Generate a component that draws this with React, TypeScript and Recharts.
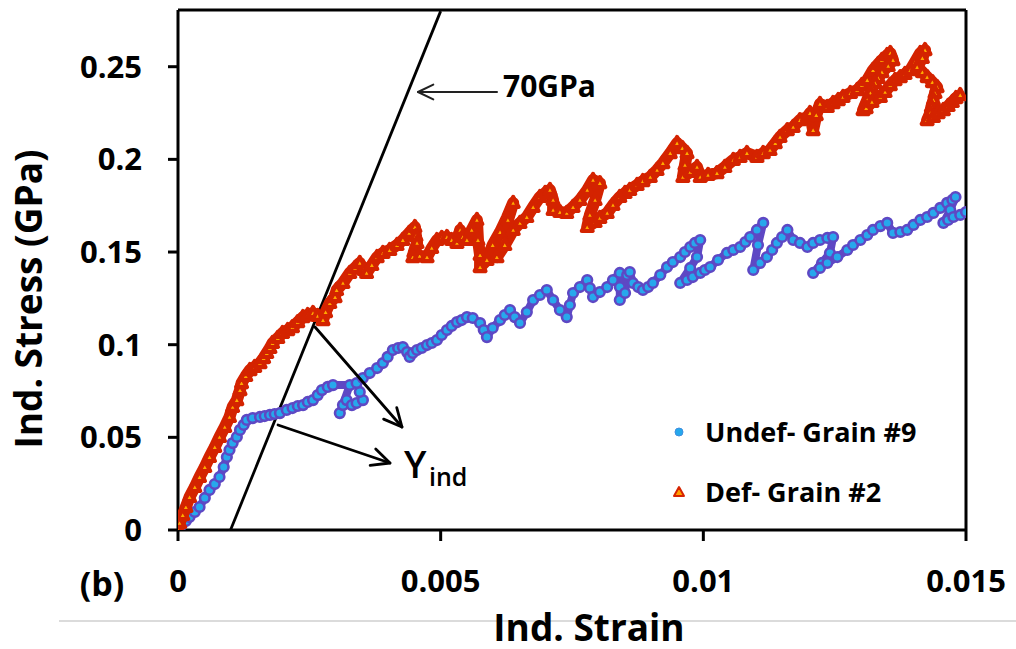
import React from "react";
import { ScatterChart, Scatter, XAxis, YAxis, ReferenceLine } from "recharts";

// Undef- Grain #9
const undefStrain = [
  0, 0.00007, 0.00015, 0.00022, 0.00032, 0.00041, 0.00051, 0.0006, 0.0007, 0.00079,
  0.00087, 0.00093, 0.00098, 0.00104, 0.00112, 0.00118, 0.00125, 0.00131, 0.00142, 0.00156,
  0.00165, 0.00175, 0.00184, 0.00194, 0.00207, 0.00218, 0.00228, 0.00238, 0.00247, 0.00257,
  0.00266, 0.00274, 0.00285, 0.00295, 0.00327, 0.00308, 0.00314, 0.00321, 0.00331, 0.0034,
  0.00352, 0.00346, 0.0034, 0.00352, 0.00365, 0.00379, 0.0039, 0.00399, 0.00409, 0.00419,
  0.00428, 0.00436, 0.00441, 0.00447, 0.00455, 0.00464, 0.00474, 0.00483, 0.00493, 0.00502,
  0.00512, 0.00521, 0.00531, 0.0054, 0.0055, 0.00561, 0.00575, 0.00582, 0.00588, 0.00599,
  0.00613, 0.00622, 0.00632, 0.00641, 0.00651, 0.00664, 0.00676, 0.00689, 0.00702, 0.00714,
  0.00727, 0.0074, 0.00746, 0.00752, 0.00765, 0.00779, 0.00784, 0.0079, 0.00803, 0.00817,
  0.00828, 0.00841, 0.00841, 0.00841, 0.00851, 0.00855, 0.0086, 0.00866, 0.00876, 0.00885,
  0.00895, 0.00904, 0.00918, 0.00931, 0.00942, 0.00956, 0.00965, 0.00975, 0.00984, 0.00994,
  0.00988, 0.00975, 0.00956, 0.00969, 0.0098, 0.00994, 0.01003, 0.01013, 0.01028, 0.01045,
  0.01057, 0.0107, 0.0108, 0.01089, 0.01102, 0.01114, 0.01104, 0.01095, 0.01108, 0.01121,
  0.01131, 0.0114, 0.0115, 0.0116, 0.01171, 0.01184, 0.01198, 0.01209, 0.01222, 0.01236,
  0.01247, 0.01241, 0.01226, 0.01209, 0.01222, 0.01236, 0.01255, 0.01274, 0.01285, 0.01299,
  0.01312, 0.01323, 0.01337, 0.0135, 0.01361, 0.01375, 0.01388, 0.014, 0.01413, 0.01426,
  0.01438, 0.01451, 0.01464, 0.01474, 0.0148, 0.0147, 0.01457, 0.01466, 0.01476, 0.01489,
  0.015,
];
const undefStress = [
  0, 0.0027, 0.0049, 0.007, 0.0097, 0.0124, 0.0173, 0.0216, 0.0248, 0.0286,
  0.034, 0.0394, 0.0432, 0.0469, 0.0502, 0.054, 0.0567, 0.0594, 0.0604, 0.061,
  0.0615, 0.0621, 0.0626, 0.0631, 0.0648, 0.0658, 0.0669, 0.0674, 0.0691, 0.0701,
  0.0728, 0.0755, 0.0772, 0.0782, 0.0782, 0.0631, 0.0674, 0.0701, 0.0674, 0.0685,
  0.0701, 0.0745, 0.0793, 0.082, 0.0847, 0.0874, 0.0901, 0.0934, 0.0971, 0.0982,
  0.0987, 0.096, 0.0934, 0.0955, 0.0971, 0.0982, 0.0998, 0.1009, 0.1025, 0.1052,
  0.1079, 0.1101, 0.1122, 0.1133, 0.1149, 0.1144, 0.1117, 0.1079, 0.1041, 0.109,
  0.1133, 0.116, 0.1187, 0.1149, 0.1117, 0.1176, 0.1241, 0.1268, 0.1295, 0.1241,
  0.1187, 0.1149, 0.1214, 0.1279, 0.1311, 0.1349, 0.1306, 0.1257, 0.1284, 0.1311,
  0.1349, 0.1387, 0.1311, 0.1241, 0.1279, 0.1376, 0.1392, 0.1333, 0.1311, 0.1295,
  0.1311, 0.1333, 0.1376, 0.1419, 0.1446, 0.1473, 0.15, 0.1527, 0.1549, 0.1565,
  0.1473, 0.1414, 0.1333, 0.1349, 0.1365, 0.1387, 0.1403, 0.1419, 0.1457, 0.1495,
  0.1511, 0.1527, 0.1554, 0.1581, 0.1619, 0.1657, 0.1538, 0.1403, 0.1441, 0.1473,
  0.1511, 0.1549, 0.1581, 0.1619, 0.1565, 0.1549, 0.1527, 0.1549, 0.1565, 0.1576,
  0.1581, 0.1495, 0.1441, 0.1387, 0.1414, 0.1441, 0.1473, 0.1511, 0.1538, 0.1565,
  0.1592, 0.1619, 0.164, 0.1657, 0.1603, 0.1608, 0.1619, 0.1646, 0.1673, 0.1689,
  0.1711, 0.1738, 0.1765, 0.1781, 0.1797, 0.1727, 0.1657, 0.1673, 0.1689, 0.17,
  0.1716,
];

// Def- Grain #2
const defStrain = [
  0, 0.00003, 0.00009, 0.00015, 0.00022, 0.00032, 0.00041, 0.00051, 0.0006, 0.0007,
  0.00079, 0.00089, 0.00098, 0.00104, 0.00112, 0.00118, 0.00121, 0.00129, 0.00137, 0.00146,
  0.00156, 0.00163, 0.00169, 0.00175, 0.0018, 0.0019, 0.00199, 0.00209, 0.00218, 0.00228,
  0.00238, 0.00247, 0.00257, 0.00266, 0.00276, 0.00281, 0.00289, 0.00299, 0.00302, 0.00314,
  0.00327, 0.00337, 0.00346, 0.00354, 0.00359, 0.00369, 0.00379, 0.0039, 0.00403, 0.00417,
  0.00428, 0.0044, 0.00451, 0.00453, 0.00455, 0.00449, 0.00447, 0.0046, 0.00474, 0.00483,
  0.00493, 0.00502, 0.00512, 0.00521, 0.00531, 0.00537, 0.00542, 0.0055, 0.00559, 0.00569,
  0.00571, 0.00575, 0.00575, 0.00588, 0.00599, 0.00613, 0.00626, 0.00638, 0.00628, 0.00619,
  0.00607, 0.00622, 0.00638, 0.00651, 0.00664, 0.00676, 0.00689, 0.00699, 0.00708, 0.00714,
  0.00714, 0.00727, 0.0074, 0.00752, 0.00765, 0.00779, 0.0079, 0.00803, 0.00794, 0.00784,
  0.00779, 0.00794, 0.00803, 0.00817, 0.00828, 0.00841, 0.00851, 0.0086, 0.00874, 0.00885,
  0.00899, 0.00912, 0.00923, 0.00937, 0.0095, 0.0096, 0.00969, 0.00965, 0.00961, 0.00975,
  0.00988, 0.00994, 0.01009, 0.01026, 0.01041, 0.01057, 0.0107, 0.01083, 0.01102, 0.01114,
  0.01127, 0.01137, 0.01146, 0.0116, 0.01171, 0.01184, 0.01198, 0.01203, 0.01209, 0.01215,
  0.01222, 0.01236, 0.01247, 0.01257, 0.01266, 0.0128, 0.01293, 0.01302, 0.01312, 0.01323,
  0.01333, 0.0134, 0.0135, 0.01356, 0.01361, 0.01352, 0.0134, 0.01333, 0.01327, 0.01321,
  0.01318, 0.01312, 0.01304, 0.0131, 0.01321, 0.01337, 0.01346, 0.01356, 0.01365, 0.01375,
  0.01384, 0.01394, 0.01403, 0.01413, 0.01422, 0.01417, 0.01407, 0.01417, 0.01426, 0.01436,
  0.01445, 0.01441, 0.01438, 0.01434, 0.01432, 0.01426, 0.01438, 0.01447, 0.01457, 0.01466,
  0.01474, 0.01481, 0.01489,
];
const defStress = [
  0, 0.0038, 0.0081, 0.0124, 0.0178, 0.0232, 0.0286, 0.034, 0.0394, 0.0448,
  0.0502, 0.0556, 0.061, 0.0664, 0.0701, 0.0755, 0.0793, 0.0831, 0.0863, 0.088,
  0.0901, 0.0928, 0.0955, 0.0982, 0.1009, 0.1036, 0.1063, 0.1079, 0.1095, 0.1122,
  0.1149, 0.116, 0.1171, 0.1155, 0.1133, 0.1176, 0.1225, 0.1257, 0.1295, 0.1333,
  0.1387, 0.1414, 0.1441, 0.1403, 0.1387, 0.143, 0.1473, 0.1495, 0.1511, 0.1538,
  0.1565, 0.1603, 0.1635, 0.1586, 0.1549, 0.15, 0.1473, 0.1479, 0.1473, 0.1522,
  0.1565, 0.1576, 0.1581, 0.1565, 0.1549, 0.1619, 0.1581, 0.1565, 0.1619, 0.1673,
  0.1565, 0.1484, 0.1419, 0.1457, 0.1538, 0.1608, 0.1684, 0.1765, 0.1673, 0.1565,
  0.1473, 0.1538, 0.1619, 0.1657, 0.1689, 0.1743, 0.1797, 0.1819, 0.1835, 0.1781,
  0.1727, 0.1716, 0.1711, 0.1743, 0.1781, 0.1835, 0.1889, 0.1872, 0.1781, 0.17,
  0.1635, 0.1662, 0.1684, 0.1711, 0.1754, 0.1797, 0.1819, 0.1835, 0.1862, 0.1883,
  0.1905, 0.1943, 0.198, 0.2034, 0.2088, 0.2061, 0.2034, 0.197, 0.1905, 0.1932,
  0.1959, 0.1905, 0.1916, 0.1926, 0.1959, 0.1997, 0.2013, 0.2034, 0.2013, 0.2034,
  0.2051, 0.2088, 0.2121, 0.2158, 0.2175, 0.2212, 0.2229, 0.225, 0.2158, 0.2239,
  0.2299, 0.2283, 0.2304, 0.232, 0.2337, 0.2358, 0.2374, 0.2401, 0.2428, 0.2482,
  0.2515, 0.2536, 0.2563, 0.2574, 0.2536, 0.2504, 0.2471, 0.2439, 0.2412, 0.2385,
  0.2358, 0.232, 0.2266, 0.2277, 0.231, 0.2337, 0.2364, 0.2401, 0.2428, 0.2444,
  0.2461, 0.2482, 0.2525, 0.2574, 0.259, 0.2547, 0.2498, 0.2471, 0.2444, 0.2417,
  0.239, 0.2358, 0.232, 0.2283, 0.225, 0.2212, 0.2229, 0.225, 0.2266, 0.2288,
  0.231, 0.2331, 0.2347,
];

const xTicks = [0, 0.005, 0.01, 0.015];
const yTicks = [0, 0.05, 0.1, 0.15, 0.2, 0.25];
const X_MAX = 0.015;
const Y_MAX = 0.2806;
const modulusLine = [
  { x: 0.001, y: 0 },
  { x: 0.005, y: 0.28 },
];
const seriesNames = ["Undef- Grain #9", "Def- Grain #2"];

const undefData = undefStrain.map((x, i) => ({ x, y: undefStress[i] }));
const defData = defStrain.map((x, i) => ({ x, y: defStress[i] }));

const FONT = "'Open Sans', sans-serif";

const Dot = (p: any) => {
  if (p.cx == null || p.cy == null) return null;
  return <circle cx={p.cx} cy={p.cy} r={4.8} fill="#27a8ec" stroke="#5e48c4" strokeWidth={2.6} />;
};
const Tri = (p: any) => {
  if (p.cx == null || p.cy == null) return null;
  const { cx, cy } = p;
  return (
    <path
      d={`M${cx},${cy - 6} L${cx + 5.4},${cy + 4} L${cx - 5.4},${cy + 4} Z`}
      fill="#ffaa00"
      stroke="#d42300"
      strokeWidth={4.2}
      strokeLinejoin="round"
    />
  );
};

const XTick = (p: any) => {
  const { x, y, payload } = p;
  return (
    <text x={x} y={y} dy={22} textAnchor="middle" fontFamily={FONT} fontWeight={700} fontSize={31} fill="#000">
      {String(payload.value)}
    </text>
  );
};
const YTick = (p: any) => {
  const { x, y, payload } = p;
  return (
    <text x={x} y={y} dy={11} textAnchor="end" fontFamily={FONT} fontWeight={700} fontSize={31} fill="#000">
      {String(payload.value)}
    </text>
  );
};

const Arrow = ({ x1, y1, x2, y2, w = 2.5, head = 16, color = "#000" }: any) => {
  const a = Math.atan2(y2 - y1, x2 - x1);
  const s = 0.45;
  const hx1 = x2 - head * Math.cos(a - s);
  const hy1 = y2 - head * Math.sin(a - s);
  const hx2 = x2 - head * Math.cos(a + s);
  const hy2 = y2 - head * Math.sin(a + s);
  return (
    <g stroke={color} strokeWidth={w} fill="none" strokeLinecap="round" strokeLinejoin="round">
      <line x1={x1} y1={y1} x2={x2} y2={y2} />
      <polyline points={`${hx1},${hy1} ${x2},${y2} ${hx2},${hy2}`} />
    </g>
  );
};

export default function App() {
  return (
    <div style={{ position: "absolute", left: 0, top: 0, width: 1016, height: 649, background: "#fff" }}>
      <ScatterChart width={1016} height={649} margin={{ top: 10, right: 50, bottom: 59, left: 78 }}>
        <XAxis
          type="number"
          dataKey="x"
          domain={[0, X_MAX]}
          ticks={xTicks}
          allowDataOverflow
          height={60}
          tickSize={11}
          axisLine={{ stroke: "#000", strokeWidth: 3 }}
          tickLine={{ stroke: "#000", strokeWidth: 3 }}
          tick={<XTick />}
          tickMargin={29}
        />
        <YAxis
          type="number"
          dataKey="y"
          domain={[0, Y_MAX]}
          ticks={yTicks}
          allowDataOverflow
          width={100}
          tickSize={10}
          axisLine={{ stroke: "#000", strokeWidth: 3 }}
          tickLine={{ stroke: "#000", strokeWidth: 3 }}
          tick={<YTick />}
          tickMargin={26}
        />
        <ReferenceLine y={Y_MAX} stroke="#000" strokeWidth={3} ifOverflow="visible" />
        <ReferenceLine x={X_MAX} stroke="#000" strokeWidth={3} ifOverflow="visible" />
        <Scatter
          name={seriesNames[0]}
          data={undefData}
          shape={<Dot />}
          line={{ stroke: "#5e48c4", strokeWidth: 8, strokeLinejoin: "round" }}
          lineType="joint"
          isAnimationActive={false}
        />
        <Scatter
          name={seriesNames[1]}
          data={defData}
          shape={<Tri />}
          line={{ stroke: "#d42300", strokeWidth: 12, strokeLinejoin: "round" }}
          lineType="joint"
          isAnimationActive={false}
        />
        <ReferenceLine segment={modulusLine} stroke="#000" strokeWidth={2.8} ifOverflow="visible" />
      </ScatterChart>
      <svg
        width={1016}
        height={649}
        style={{ position: "absolute", left: 0, top: 0, pointerEvents: "none" }}
      >
        <line x1={59} y1={621} x2={1016} y2={621} stroke="#b8b8b8" strokeWidth={1.2} />
        <text
          transform="translate(42,299) rotate(-90)"
          textAnchor="middle"
          fontFamily={FONT}
          fontWeight={700}
          fontSize={37}
          fill="#000"
        >
          Ind. Stress (GPa)
        </text>
        <text x={589} y={641} textAnchor="middle" fontFamily={FONT} fontWeight={700} fontSize={37} fill="#000">
          Ind. Strain
        </text>
        <text x={102} y={596} textAnchor="middle" fontFamily={FONT} fontWeight={700} fontSize={34} fill="#000">
          (b)
        </text>
        <text x={503} y={97} fontFamily={FONT} fontWeight={700} fontSize={30} fill="#000">
          70GPa
        </text>
        <Arrow x1={497} y1={92} x2={418} y2={92} w={2} head={17} color="#222" />
        <Arrow x1={315} y1={327} x2={402} y2={427} w={2.8} head={20} />
        <Arrow x1={278} y1={425} x2={390} y2={463} w={2.8} head={20} />
        <text x={404} y={478} fontFamily={FONT} fontWeight={600} fontSize={38} fill="#000">
          Y
        </text>
        <text x={429} y={486} fontFamily={FONT} fontWeight={600} fontSize={25} fill="#000">
          ind
        </text>
        <circle cx={679} cy={432} r={4} fill="#25a8ec" stroke="#3f8fe0" strokeWidth={1} />
        <text x={705} y={442} fontFamily={FONT} fontWeight={700} fontSize={27} fill="#000">
          {seriesNames[0]}
        </text>
        <path d="M679,487 L684,496 L674,496 Z" fill="#ffa000" stroke="#d62400" strokeWidth={2} strokeLinejoin="round" />
        <text x={705} y={502} fontFamily={FONT} fontWeight={700} fontSize={27} fill="#000">
          {seriesNames[1]}
        </text>
      </svg>
    </div>
  );
}
